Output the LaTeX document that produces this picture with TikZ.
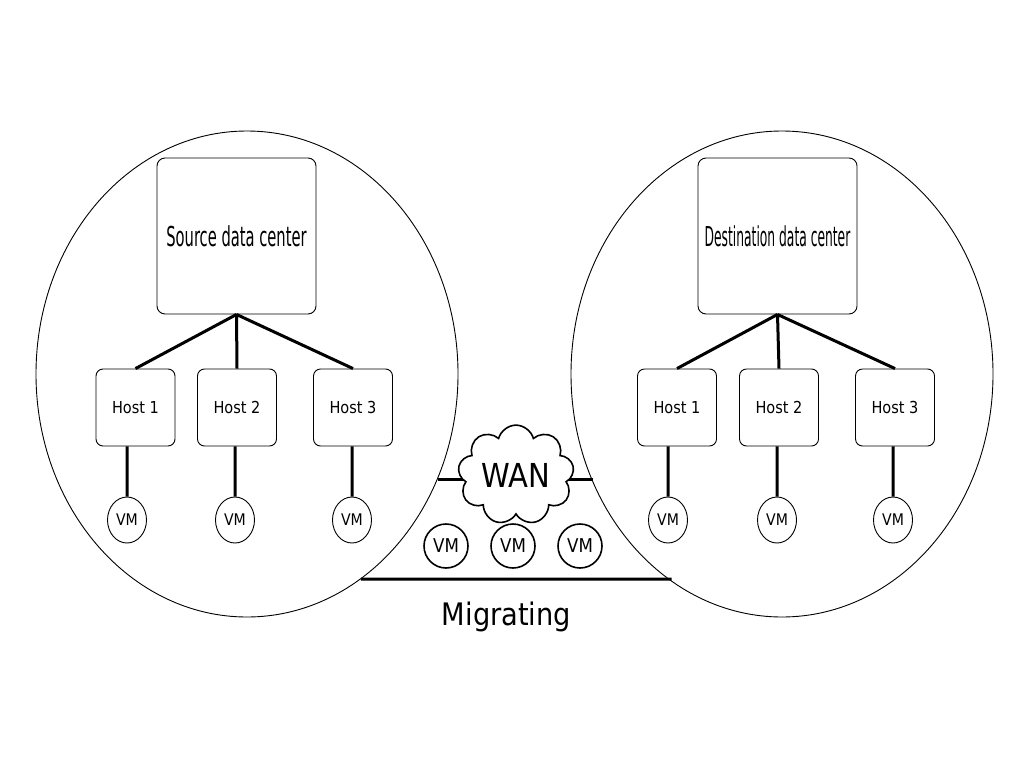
\documentclass[tikz,border=0pt]{standalone}
\usepackage{graphicx}
\usepackage{fontspec}
\setmainfont{DejaVu Sans}[FakeStretch=0.88]
\usetikzlibrary{shapes.geometric,shapes.symbols}

\begin{document}
\begin{tikzpicture}[x=1pt, y=-1pt,
  site/.style={draw, ellipse, line width=0.9pt, minimum width=422pt, minimum height=486pt, inner sep=0pt},
  dc/.style={draw, rounded corners=8pt, minimum width=159pt, minimum height=156pt, line width=0.9pt},
  host/.style={draw, rounded corners=7pt, minimum width=79pt, minimum height=77pt, line width=0.9pt, font=\fontsize{16.5}{18}\selectfont},
  vm/.style={draw, ellipse, minimum width=39pt, minimum height=46pt, inner sep=0pt, line width=0.9pt, font=\fontsize{16}{18}\selectfont},
  moving/.style={draw, circle, minimum size=44pt, inner sep=0pt, line width=1.6pt, font=\fontsize{19}{21}\selectfont},
  link/.style={line width=3pt}]
        \useasboundingbox (0,0) rectangle (1024,768);

        \node[site] (src) at (247,374) {};
        \node[site] (dst) at (782,374) {};

        \node[dc] (src dc) at (236.5,236) {\scalebox{0.61}[1]{\fontsize{27.4}{30}\selectfont Source data center}};
        \node[host] (src 1) at (135.5,407.5) {Host 1};
        \node[host] (src 2) at (237,407.5) {Host 2};
        \node[host] (src 3) at (353,407.5) {Host 3};
        \node[vm] (src vm 1) at (127,520) {VM};
        \node[vm] (src vm 2) at (235,520) {VM};
        \node[vm] (src vm 3) at (352,520) {VM};

        \node[dc] (dst dc) at (777.5,236) {\scalebox{0.51}[1]{\fontsize{27.4}{30}\selectfont Destination data center}};
        \node[host] (dst 1) at (677,407.5) {Host 1};
        \node[host] (dst 2) at (779,407.5) {Host 2};
        \node[host] (dst 3) at (895,407.5) {Host 3};
        \node[vm] (dst vm 1) at (668,520) {VM};
        \node[vm] (dst vm 2) at (777,520) {VM};
        \node[vm] (dst vm 3) at (893,520) {VM};

        \draw[link] (src.-29.2) -- (dst.-150.8 |- src.-29.2);
        \node[cloud, cloud puffs=9, aspect=1.23, draw, fill=white, inner sep=0pt, line width=1.6pt,
          minimum width=116pt, minimum height=94pt, font=\fontsize{33}{36}\selectfont] (wan) at (516,475) {WAN};

        \node[moving] (move 1) at (446,546) {VM};
        \node[moving] (move 2) at (513,546) {VM};
        \node[moving] (move 3) at (580,546) {VM};
        \node[font=\fontsize{31}{34}\selectfont, anchor=base] (migrating) at (506.5,625) {Migrating};

        \draw[link]
         (src dc.south) -- (src 1.north)
         (src dc.south) -- (src 2.north)
         (src dc.south) -- (src 3.north)
         (src vm 1.north) -- (src vm 1.north |- src 1.south)
         (src vm 2.north) -- (src vm 2.north |- src 2.south)
         (src vm 3.north) -- (src vm 3.north |- src 3.south)

         (dst dc.south) -- (dst 1.north)
         (dst dc.south) -- (dst 2.north)
         (dst dc.south) -- (dst 3.north)
         (dst vm 1.north) -- (dst vm 1.north |- dst 1.south)
         (dst vm 2.north) -- (dst vm 2.north |- dst 2.south)
         (dst vm 3.north) -- (dst vm 3.north |- dst 3.south)

         (src.-61.5) -- (dst.-118.5 |- src.-61.5);
\end{tikzpicture}
\end{document}
